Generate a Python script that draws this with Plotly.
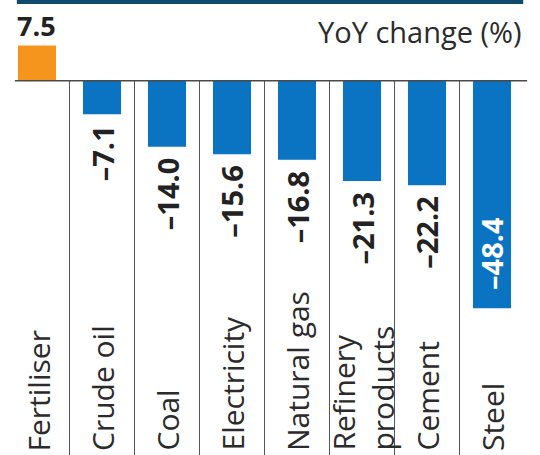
import plotly.graph_objects as go

categories = ["Fertiliser", "Crude oil", "Coal", "Electricity", "Natural gas",
              "Refinery<br>products", "Cement", "Steel"]
values = [7.5, -7.1, -14.0, -15.6, -16.8, -21.3, -22.2, -48.4]
value_labels = ["7.5", "\u20137.1", "\u201314.0", "\u201315.6", "\u201316.8", "\u201321.3", "\u201322.2", "\u201348.4"]
title_text = "YoY change (%)"

ORANGE = "#f5951d"
BLUE = "#0a73c2"
NAVY = "#0f4b6c"
TXT = "#2b2b2b"
CAT_FONT = "Open Sans, sans-serif"
VAL_FONT = "Open Sans, sans-serif"

n = len(categories)
xs = list(range(n))
colors = [ORANGE if v > 0 else BLUE for v in values]

fig = go.Figure()
fig.add_trace(go.Bar(x=xs, y=values, marker=dict(color=colors, line=dict(width=0)),
                     width=0.585, hoverinfo="skip"))

# zero line
fig.add_shape(type="line", xref="x", yref="y", x0=-0.34, x1=7.54, y0=0, y1=0,
              line=dict(color="#4a4a4a", width=1.5))
# separators
for i in range(n - 1):
    fig.add_shape(type="line", xref="x", yref="paper", x0=i + 0.5, x1=i + 0.5,
                  y0=0, y1=(79.6) / (79.6 + 17.2),
                  line=dict(color="#555555", width=1))
# top navy bar
fig.add_shape(type="rect", xref="x", yref="paper", x0=-0.31, x1=7.48, y0=1 - 4 / 455, y1=1,
              fillcolor=NAVY, line=dict(width=0))

annotations = []
for i, (c, v, lab) in enumerate(zip(categories, values, value_labels)):
    annotations.append(dict(x=i, y=0, xref="x", yref="paper", text=c, showarrow=False,
                            textangle=-90, xanchor="center", yanchor="bottom", yshift=2,
                            xshift=2 if i == 0 else 0,
                            align="left", font=dict(family=CAT_FONT, size=30, color=TXT)))
    if v > 0:
        annotations.append(dict(x=i, y=v, xref="x", yref="y", text="<b>%s</b>" % lab,
                                showarrow=False, xanchor="center", yanchor="bottom", yshift=0,
                                font=dict(family=VAL_FONT, size=27, color="#222222")))
    elif v < -40:
        annotations.append(dict(x=i, y=v, xref="x", yref="y", text="<b>%s</b>" % lab,
                                showarrow=False, textangle=-90, xanchor="center", yanchor="bottom",
                                yshift=16, font=dict(family=VAL_FONT, size=29, color="white")))
    else:
        annotations.append(dict(x=i, y=v, xref="x", yref="y", text="<b>%s</b>" % lab,
                                showarrow=False, textangle=-90, xanchor="center", yanchor="top",
                                yshift=-9, font=dict(family=VAL_FONT, size=29, color="#222222")))

annotations.append(dict(x=524 / 540, y=1 - 53 / 455, xref="paper", yref="paper", text=title_text,
                        showarrow=False, xanchor="right", yanchor="bottom",
                        font=dict(family=CAT_FONT, size=29, color=TXT)))

fig.update_layout(
    width=540, height=455, margin=dict(l=0, r=0, t=0, b=0),
    paper_bgcolor="white", plot_bgcolor="white", showlegend=False,
    xaxis=dict(range=[-0.569, 7.738], visible=False, fixedrange=True),
    yaxis=dict(range=[-79.6, 17.2], visible=False, fixedrange=True),
    annotations=annotations,
)

fig.write_html("out.html", config={"displayModeBar": False},
               post_script="document.body.style.margin='0';document.body.style.overflow='hidden';")
